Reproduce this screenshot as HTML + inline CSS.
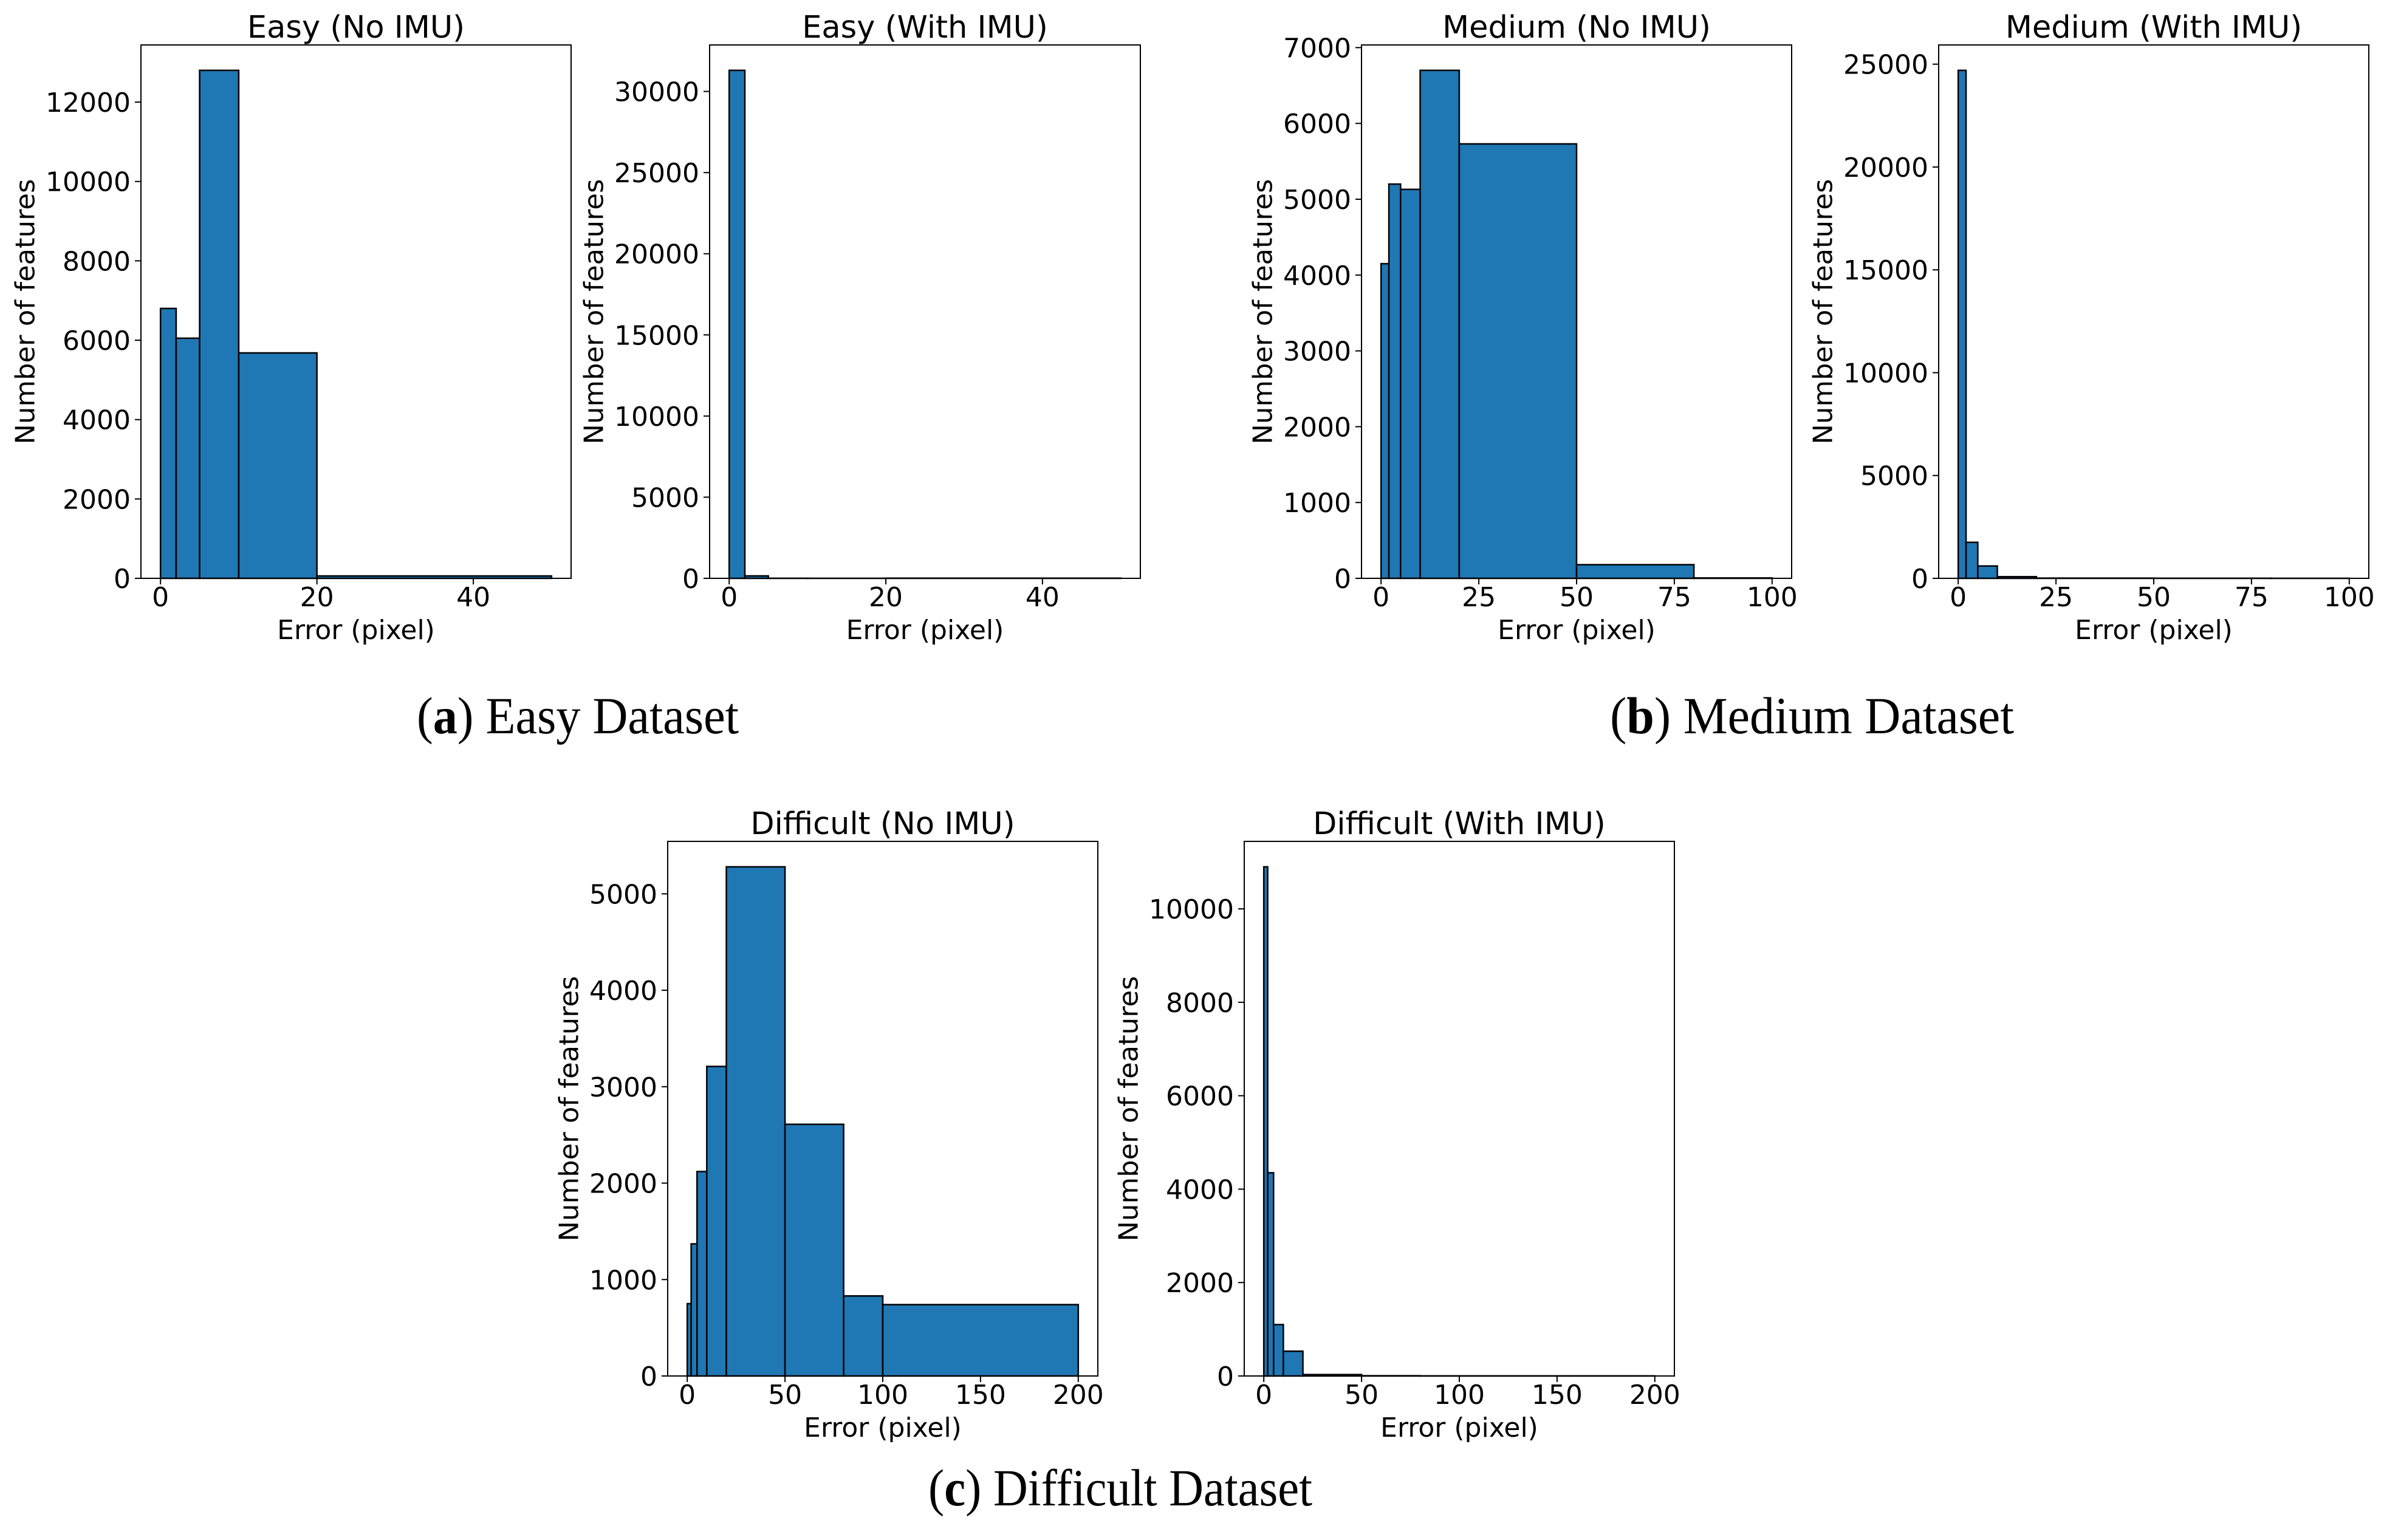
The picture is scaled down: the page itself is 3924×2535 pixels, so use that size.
<!DOCTYPE html>
<html><head><meta charset="utf-8"><style>
html,body{margin:0;padding:0;background:#fff;}
svg{display:block;}
</style></head><body>
<svg id="fig" width="3924" height="2535" viewBox="0 0 3924 2535" xmlns="http://www.w3.org/2000/svg">
<rect width="3924" height="2535" fill="#fff"/>
<g id="panels"></g>
<text x="686" y="1207" font-family="Liberation Serif, serif" font-size="86" textLength="530" lengthAdjust="spacingAndGlyphs">(<tspan font-weight="bold">a</tspan>) Easy Dataset</text>
<text x="2650" y="1207" font-family="Liberation Serif, serif" font-size="86" textLength="665" lengthAdjust="spacingAndGlyphs">(<tspan font-weight="bold">b</tspan>) Medium Dataset</text>
<text x="1528" y="2478" font-family="Liberation Serif, serif" font-size="86" textLength="632" lengthAdjust="spacingAndGlyphs">(<tspan font-weight="bold">c</tspan>) Difficult Dataset</text>
</svg>
<script>
// bin edges
const edgesEasy = [0, 2, 5, 10, 20, 50];
const edgesMedium = [0, 2, 5, 10, 20, 50, 80, 100];
const edgesDifficult = [0, 2, 5, 10, 20, 50, 80, 100, 200];
// counts
const easyNoImu = [6800, 6050, 12800, 5680, 60];
const easyWithImu = [31300, 150, 5, 3, 10];
const mediumNoImu = [4150, 5200, 5130, 6700, 5730, 180, 5];
const mediumWithImu = [24700, 1750, 600, 80, 10, 5, 2];
const difficultNoImu = [750, 1370, 2120, 3210, 5280, 2610, 830, 740];
const difficultWithImu = [10900, 4350, 1100, 530, 30, 5, 2, 2];
// ticks
const xticksEasy = [0, 20, 40];
const xticksMedium = [0, 25, 50, 75, 100];
const xticksDifficult = [0, 50, 100, 150, 200];
const yticksEasyNo = [0, 2000, 4000, 6000, 8000, 10000, 12000];
const yticksEasyWith = [0, 5000, 10000, 15000, 20000, 25000, 30000];
const yticksMediumNo = [0, 1000, 2000, 3000, 4000, 5000, 6000, 7000];
const yticksMediumWith = [0, 5000, 10000, 15000, 20000, 25000];
const yticksDifficultNo = [0, 1000, 2000, 3000, 4000, 5000];
const yticksDifficultWith = [0, 2000, 4000, 6000, 8000, 10000];
const titles = ["Easy (No IMU)", "Easy (With IMU)", "Medium (No IMU)", "Medium (With IMU)", "Difficult (No IMU)", "Difficult (With IMU)"];

const panels = [
 {name:'easy-no-imu', title:titles[0], L:232, R:940, T:74, B:952, edges:edgesEasy, counts:easyNoImu, xt:xticksEasy, yt:yticksEasyNo},
 {name:'easy-with-imu', title:titles[1], L:1168, R:1877, T:74, B:952, edges:edgesEasy, counts:easyWithImu, xt:xticksEasy, yt:yticksEasyWith},
 {name:'medium-no-imu', title:titles[2], L:2241, R:2949, T:74, B:952, edges:edgesMedium, counts:mediumNoImu, xt:xticksMedium, yt:yticksMediumNo},
 {name:'medium-with-imu', title:titles[3], L:3191, R:3899, T:74, B:952, edges:edgesMedium, counts:mediumWithImu, xt:xticksMedium, yt:yticksMediumWith},
 {name:'difficult-no-imu', title:titles[4], L:1099, R:1807, T:1385, B:2265, edges:edgesDifficult, counts:difficultNoImu, xt:xticksDifficult, yt:yticksDifficultNo},
 {name:'difficult-with-imu', title:titles[5], L:2048, R:2756, T:1385, B:2265, edges:edgesDifficult, counts:difficultWithImu, xt:xticksDifficult, yt:yticksDifficultWith}
];
const NS = 'http://www.w3.org/2000/svg';
const root = document.getElementById('panels');
function mk(tag, attrs, parent){ const e=document.createElementNS(NS,tag); for(const k in attrs) e.setAttribute(k,attrs[k]); parent.appendChild(e); return e; }
const FONT = 'DejaVu Sans, Liberation Sans, sans-serif';
panels.forEach(p=>{
  const g = mk('g',{},root);
  
  
  const x0 = p.edges[0], x1 = p.edges[p.edges.length-1];
  const pad = (x1-x0)*0.05;
  const ymax = Math.max(...p.counts)*1.05;
  const sx = v => p.L + (v-(x0-pad))/((x1+pad)-(x0-pad))*(p.R-p.L);
  const sy = v => p.B - v/ymax*(p.B-p.T);
  for(let i=0;i<p.counts.length;i++){
    const r = mk('rect',{x:sx(p.edges[i]), y:sy(p.counts[i]), width:sx(p.edges[i+1])-sx(p.edges[i]), height:p.B-sy(p.counts[i]), fill:'#1f77b4', stroke:'#000', 'stroke-width':2.5}, g);
    
    
  }
  const fr = mk('rect',{x:p.L, y:p.T, width:p.R-p.L, height:p.B-p.T, fill:'none', stroke:'#000', 'stroke-width':2}, g);
  
  
  p.xt.forEach(v=>{
    const x = sx(v);
    mk('line',{x1:x, x2:x, y1:p.B, y2:p.B+10, stroke:'#000', 'stroke-width':2}, g);
    const t = mk('text',{x:x, y:p.B+46, 'text-anchor':'middle', 'font-family':FONT, 'font-size':44}, g);
    t.textContent = v;
    
    
  });
  let maxc = 1;
  p.yt.forEach(v=>{
    const y = sy(v);
    mk('line',{x1:p.L-10, x2:p.L, y1:y, y2:y, stroke:'#000', 'stroke-width':2}, g);
    const t = mk('text',{x:p.L-17, y:y+16, 'text-anchor':'end', 'font-family':FONT, 'font-size':44}, g);
    t.textContent = v;
    
    
    maxc = Math.max(maxc, String(v).length);
  });
  const tt = mk('text',{x:(p.L+p.R)/2, y:p.T-12, 'text-anchor':'middle', 'font-family':FONT, 'font-size':51}, g);
  tt.textContent = p.title;
  
  
  const xl = mk('text',{x:(p.L+p.R)/2, y:p.B+100, 'text-anchor':'middle', 'font-family':FONT, 'font-size':44}, g);
  xl.textContent = 'Error (pixel)';
  
  
  const cx = p.L - 50 - 28*maxc, cy = (p.T+p.B)/2;
  const yl = mk('text',{x:cx, y:cy, 'text-anchor':'middle', 'dominant-baseline':'central', 'font-family':FONT, 'font-size':44, transform:'rotate(-90 '+cx+' '+cy+')', textLength:437, lengthAdjust:'spacingAndGlyphs'}, g);
  yl.textContent = 'Number of features';
  
  
});
</script>
</body></html>
